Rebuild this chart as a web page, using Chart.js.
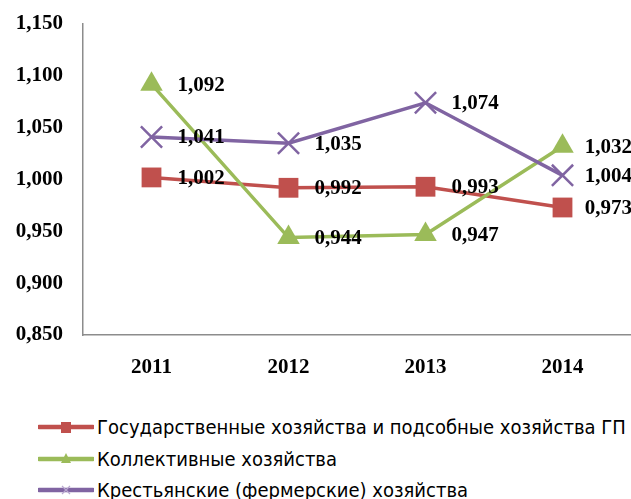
<!DOCTYPE html>
<html>
<head>
<meta charset="utf-8">
<script src="https://cdn.jsdelivr.net/npm/chart.js@4"></script>
<style>
  html, body { margin: 0; padding: 0; background: #fff; }
  #wrap { position: relative; width: 631px; height: 499px; overflow: hidden; }
  #chartBox { position: absolute; left: 0; top: 0; width: 631px; height: 400px; }
  #legend { position: absolute; left: 38px; top: 411px; font-family: "Liberation Sans Narrow", "DejaVu Sans Condensed", sans-serif; font-size: 20px; color: #000; }
  .row { position: absolute; left: 0; height: 32px; white-space: nowrap; display: flex; align-items: center; }
  .row svg { flex: none; }
  .row span { margin-left: 3px; }
</style>
</head>
<body>
<div id="wrap">
  <div id="chartBox"><canvas id="c"></canvas></div>
  <div id="legend"></div>
</div>
<script>
const years = ['2011', '2012', '2013', '2014'];
const seriesNames = [
  'Государственные хозяйства и подсобные хозяйства ГП',
  'Коллективные хозяйства',
  'Крестьянские (фермерские) хозяйства'
];
const stateFarms = [1.002, 0.992, 0.993, 0.973];
const collectiveFarms = [1.092, 0.944, 0.947, 1.032];
const peasantFarms = [1.041, 1.035, 1.074, 1.004];
const yMin = 0.85, yMax = 1.15, yStep = 0.05;

const colors = ['#C0504D', '#9BBB59', '#8064A2'];
const fmt = v => v.toFixed(3).replace('.', ',');
const labelFont = '"Liberation Serif", serif';

const dataLabels = {
  id: 'dataLabels',
  afterDatasetsDraw(chart) {
    const ctx = chart.ctx;
    ctx.save();
    ctx.font = 'bold 21px ' + labelFont;
    ctx.fillStyle = '#000';
    ctx.textBaseline = 'middle';
    ctx.textAlign = 'left';
    chart.data.datasets.forEach((ds, i) => {
      const meta = chart.getDatasetMeta(i);
      meta.data.forEach((pt, j) => {
        const txt = fmt(ds.data[j]);
        const w = ctx.measureText(txt).width;
        const x = Math.min(pt.x + 26, chart.width - w + 1);
        ctx.fillText(txt, x, pt.y + 1);
      });
    });
    ctx.restore();
  }
};

const chart = new Chart(document.getElementById('c'), {
  type: 'line',
  data: {
    labels: years,
    datasets: [
      { label: seriesNames[0], data: stateFarms, borderColor: colors[0], backgroundColor: colors[0],
        borderWidth: 3.5, pointStyle: 'rect', pointRadius: 14, pointHoverRadius: 14, pointBorderWidth: 0, order: 3 },
      { label: seriesNames[1], data: collectiveFarms, borderColor: colors[1], backgroundColor: colors[1],
        borderWidth: 3.5, pointStyle: 'triangle', pointRadius: 13, pointHoverRadius: 13, pointBorderWidth: 0, order: 2 },
      { label: seriesNames[2], data: peasantFarms, borderColor: colors[2], backgroundColor: colors[2],
        borderWidth: 3.5, pointStyle: 'crossRot', pointRadius: 15, pointHoverRadius: 15, pointBorderWidth: 2.5, order: 1 }
    ]
  },
  options: {
    responsive: true,
    maintainAspectRatio: false,
    animation: false,
    events: [],
    layout: { autoPadding: false, padding: { top: 24, right: 0, left: 0, bottom: 0 } },
    plugins: { legend: { display: false }, tooltip: { enabled: false } },
    elements: { line: { tension: 0 } },
    scales: {
      x: {
        offset: true,
        grid: { display: false, drawTicks: false },
        border: { display: true, color: '#8C8C8C', width: 1.5 },
        ticks: { padding: 20, color: '#000', font: { family: labelFont, size: 21, weight: 'bold' } },
        afterFit(s) { s.height = 65; s.paddingLeft = 0; s.paddingRight = 0; }
      },
      y: {
        min: yMin, max: yMax,
        grid: { display: false, drawTicks: false },
        border: { display: true, color: '#8C8C8C', width: 1.5 },
        ticks: { stepSize: yStep, padding: 20, color: '#000', font: { family: labelFont, size: 21, weight: 'bold' },
                 callback: v => fmt(v) },
        afterFit(s) { s.width = 83; s.paddingTop = 0; s.paddingBottom = 0; }
      }
    }
  },
  plugins: [dataLabels]
});

// HTML legend
const legend = document.getElementById('legend');
const markerSvg = [
  '<rect x="23" y="4" width="10" height="11" fill="' + colors[0] + '"/>',
  '<polygon points="28,3 33,13 23,13" fill="' + colors[1] + '"/>',
  '<path d="M24,5 L32,13 M32,5 L24,13" stroke="#B9A7CF" stroke-width="1.2"/>'
];
seriesNames.forEach((name, i) => {
  const row = document.createElement('div');
  row.className = 'row';
  row.style.top = (i * 31.5) + 'px';
  row.innerHTML = '<svg width="56" height="18" viewBox="0 0 56 18"><line x1="1" y1="9" x2="55" y2="9" stroke="' + colors[i] + '" stroke-width="4.5" stroke-linecap="round"/>' + markerSvg[i] + '</svg><span>' + name + '</span>';
  legend.appendChild(row);
});
</script>
</body>
</html>
